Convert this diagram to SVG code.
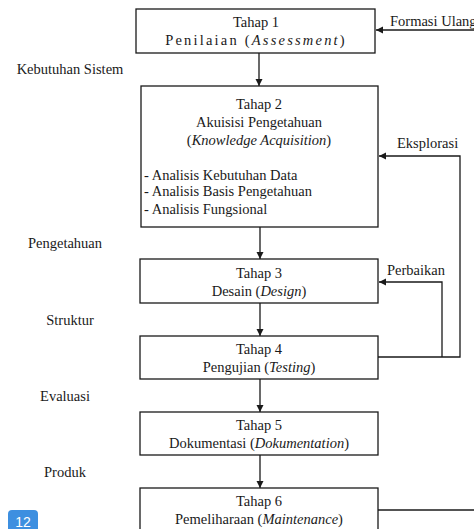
<svg xmlns="http://www.w3.org/2000/svg" width="474" height="529" viewBox="0 0 474 529">
<defs>
<marker id="ah" markerWidth="8" markerHeight="8" refX="7" refY="4" orient="auto" markerUnits="userSpaceOnUse">
<path d="M0,0.5 L7,4 L0,7.5 Z" fill="#1a1a1a"/>
</marker>
<style>
.box{fill:#fff;stroke:#1a1a1a;stroke-width:1.3}
.c{text-anchor:middle}
.line{fill:none;stroke:#1a1a1a;stroke-width:1.3}
</style>
</defs>
<rect width="474" height="529" fill="#fff"/>
<g font-family="Liberation Serif" font-size="14.5" fill="#1a1a1a">
<g id="connectors">
<path class="line" d="M259,53 V86" marker-end="url(#ah)"/>
<path class="line" d="M474,30 H376" marker-end="url(#ah)"/>
<path class="line" d="M260,227 V259" marker-end="url(#ah)"/>
<path class="line" d="M260,303 V336" marker-end="url(#ah)"/>
<path class="line" d="M260,379 V412" marker-end="url(#ah)"/>
<path class="line" d="M260,455 V488" marker-end="url(#ah)"/>
<path class="line" d="M378,357 H460 V156 H379" marker-end="url(#ah)"/>
<path class="line" d="M442,357 V282 H379" marker-end="url(#ah)"/>
<path class="line" d="M378,510 H474"/>
<text x="390" y="26">Formasi Ulang</text>
<text x="397" y="148">Eksplorasi</text>
<text x="387" y="275">Perbaikan</text>
</g>
<g id="side-labels">
<text class="c" x="70" y="74">Kebutuhan Sistem</text>
<text class="c" x="65" y="248">Pengetahuan</text>
<text class="c" x="70" y="325">Struktur</text>
<text class="c" x="65" y="401">Evaluasi</text>
<text class="c" x="65" y="477">Produk</text>
</g>
<g id="tahap1">
<rect class="box" x="136" y="9" width="239" height="44"/>
<text class="c" x="256" y="27">Tahap 1</text>
<text class="c" x="256" y="45" letter-spacing="2.2">Penilaian (<tspan font-style="italic">Assessment</tspan>)</text>
</g>
<g id="tahap2">
<rect class="box" x="141" y="86" width="237" height="141"/>
<text class="c" x="259" y="109">Tahap 2</text>
<text class="c" x="259" y="127">Akuisisi Pengetahuan</text>
<text class="c" x="259" y="145">(<tspan font-style="italic">Knowledge Acquisition</tspan>)</text>
<text x="144" y="180">- Analisis Kebutuhan Data</text>
<text x="144" y="196">- Analisis Basis Pengetahuan</text>
<text x="144" y="214">- Analisis Fungsional</text>
</g>
<g id="tahap3">
<rect class="box" x="140" y="259" width="238" height="44"/>
<text class="c" x="259" y="278">Tahap 3</text>
<text class="c" x="259" y="296">Desain (<tspan font-style="italic">Design</tspan>)</text>
</g>
<g id="tahap4">
<rect class="box" x="140" y="336" width="238" height="43"/>
<text class="c" x="259" y="354">Tahap 4</text>
<text class="c" x="259" y="372">Pengujian (<tspan font-style="italic">Testing</tspan>)</text>
</g>
<g id="tahap5">
<rect class="box" x="140" y="412" width="238" height="43"/>
<text class="c" x="259" y="430">Tahap 5</text>
<text class="c" x="259" y="448">Dokumentasi (<tspan font-style="italic">Dokumentation</tspan>)</text>
</g>
<g id="tahap6">
<rect class="box" x="140" y="488" width="238" height="50"/>
<text class="c" x="259" y="506">Tahap 6</text>
<text class="c" x="259" y="524">Pemeliharaan (<tspan font-style="italic">Maintenance</tspan>)</text>
</g>
</g>
<g id="badge">
<rect x="8" y="510" width="30" height="26" rx="4" fill="#3d8fe0"/>
<text x="23" y="527" text-anchor="middle" font-family="Liberation Sans" font-size="14" fill="#fff">12</text>
</g>
</svg>
